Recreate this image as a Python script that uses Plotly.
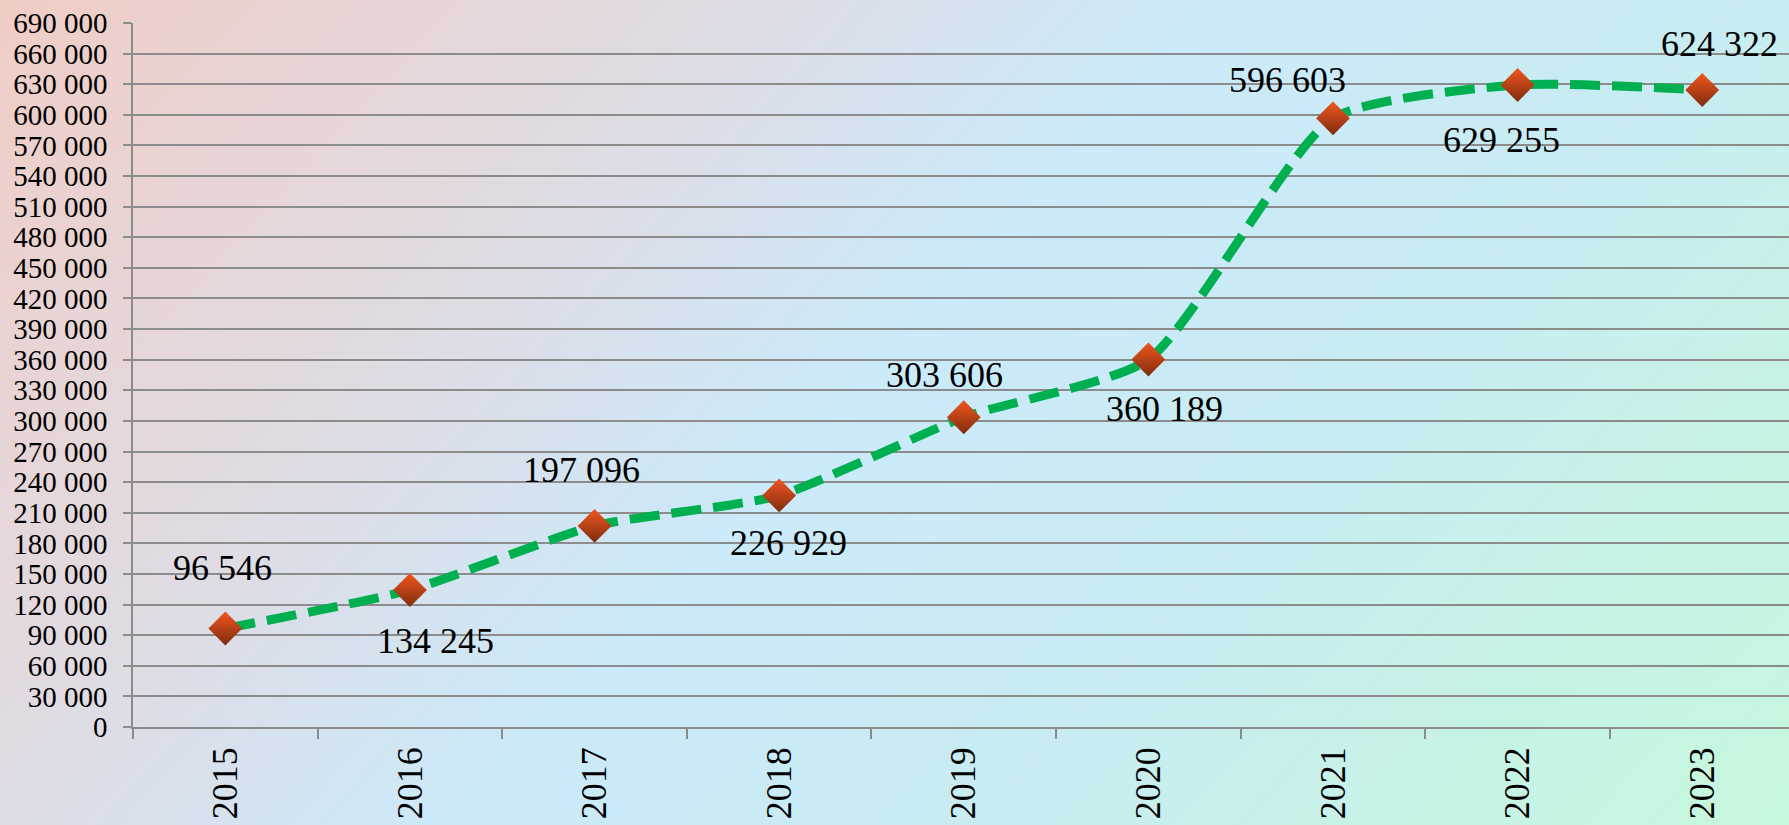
import base64
from plotly.graph_objects import Figure as plotly_Figure, Scatter as plotly_Scatter

years = ["2015", "2016", "2017", "2018", "2019", "2020", "2021", "2022", "2023"]
values = [96546, 134245, 197096, 226929, 303606, 360189, 596603, 629255, 624322]
value_labels = ["96 546", "134 245", "197 096", "226 929", "303 606",
                "360 189", "596 603", "629 255", "624 322"]

# label offsets in px (x, y), up is positive
label_shift = [(-3, 61), (26, -51), (-13, 56), (9, -48), (-19, 42),
               (16, -49), (-46, 38), (-16, -55), (17, 46)]

W, H = 1789, 825
M_LEFT, M_TOP, M_BOTTOM, M_RIGHT = 133, 23, 98, 0
FONT = "Liberation Serif"
GRID = "#8c8c8c"

# background gradient: pink top-left -> light blue -> light green bottom-right
bg_svg = (
    '<svg xmlns="http://www.w3.org/2000/svg" width="1789" height="825" '
    'preserveAspectRatio="none" viewBox="0 0 1 1">'
    '<defs><linearGradient id="g" x1="0" y1="0" x2="1.207" y2="0.517">'
    '<stop offset="0" stop-color="#f0cdc5"/>'
    '<stop offset="0.28" stop-color="#e0dbe3"/>'
    '<stop offset="0.48" stop-color="#cbeafa"/>'
    '<stop offset="0.68" stop-color="#c8ecf2"/>'
    '<stop offset="1" stop-color="#c6f8dc"/>'
    '</linearGradient></defs>'
    '<rect x="0" y="0" width="1" height="1" fill="url(#g)"/></svg>'
)
bg_src = "data:image/svg+xml;base64," + base64.b64encode(bg_svg.encode()).decode()

plot_w = W - M_LEFT - M_RIGHT
plot_h = H - M_TOP - M_BOTTOM

fig = plotly_Figure()
fig.add_trace(
    plotly_Scatter(
        x=years,
        y=values,
        mode="lines",
        line=dict(color="#00b050", width=9, dash="30px,12px", shape="spline", smoothing=0.6),
        hoverinfo="skip",
    )
)
fig.add_trace(
    plotly_Scatter(
        x=years,
        y=values,
        mode="markers",
        marker=dict(
            symbol="diamond",
            size=26,
            color="#f2561e",
            gradient=dict(type="vertical", color="#7e2c0e"),
            line=dict(width=0),
        ),
    )
)

# category axis: annotations use the category index
for i, (v, txt, (dx, dy)) in enumerate(zip(values, value_labels, label_shift)):
    fig.add_annotation(
        x=i, y=v, text=txt, showarrow=False,
        xshift=dx, yshift=dy,
        font=dict(family=FONT, size=36, color="black"),
    )

fig.add_layout_image(
    source=bg_src, xref="paper", yref="paper",
    x=-M_LEFT / plot_w, y=1 + M_TOP / plot_h,
    sizex=W / plot_w, sizey=H / plot_h,
    xanchor="left", yanchor="top", sizing="stretch", layer="below",
)

fig.update_xaxes(
    type="category",
    range=[-0.5, 8.47],
    automargin=False,
    showgrid=False,
    showline=True, linecolor=GRID, linewidth=1.5,
    ticks="outside", tickson="boundaries", ticklen=10, tickcolor=GRID, tickwidth=1.5,
    tickangle=-90,
    ticklabelstandoff=4,
    tickfont=dict(family=FONT, size=36, color="black"),
)
fig.update_yaxes(
    range=[0, 690000],
    dtick=30000,
    tickformat=",d",
    automargin=False,
    showgrid=True, gridcolor=GRID, gridwidth=1.5,
    zeroline=False,
    showline=True, linecolor=GRID, linewidth=1.5,
    ticks="outside", ticklen=8, tickcolor=GRID, tickwidth=1.5,
    ticklabelstandoff=10,
    tickfont=dict(family=FONT, size=29, color="black"),
)
fig.update_layout(
    width=W, height=H,
    margin=dict(l=M_LEFT, r=M_RIGHT, t=M_TOP, b=M_BOTTOM, pad=0),
    separators=", ",
    showlegend=False,
    paper_bgcolor="rgba(0,0,0,0)",
    plot_bgcolor="rgba(0,0,0,0)",
)

# drop the default page margin so the figure fills the window
fig.write_html(
    "out.html",
    config={"displayModeBar": False},
    post_script="document.body.style.margin='0';",
)
